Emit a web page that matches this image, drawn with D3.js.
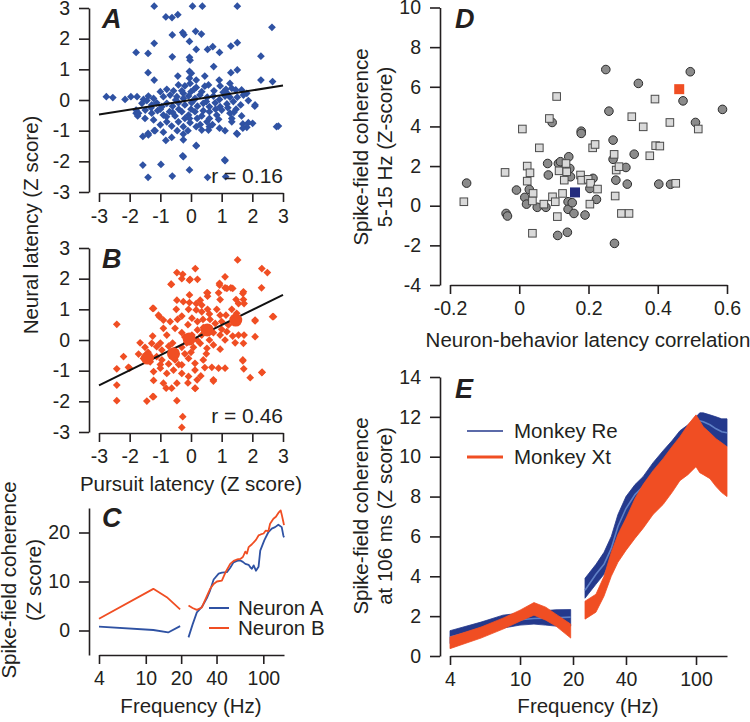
<!DOCTYPE html>
<html><head><meta charset="utf-8">
<script src="https://cdn.jsdelivr.net/npm/d3@7"></script>
<style>
body{margin:0;background:#fff}
svg text{font-family:"Liberation Sans",Arial,Helvetica,sans-serif;fill:#231f20}
</style></head><body>
<svg id="c" width="750" height="722"></svg>
<script>
// ---------------- DATA ----------------
// Panel A: pursuit latency vs neural latency (Z), blue
const aPoints = [
[-1.2,3.06],[0.05,3.06],[0.37,3.06],[1.51,3.06],
[-0.82,2.71],[-0.62,2.69],[-0.43,2.78],[2.64,2.37],
[-0.27,2.2],[-0.23,2.13],[0.15,2.24],[0.34,2.15],[-0.61,2.12],
[-0.05,1.91],[-1.2,1.85],[1.3,1.76],[1.51,1.87],[0.71,1.74],[0.54,1.65],[0.17,1.65],
[-1.79,1.55],[-1.4,1.52],[0.93,1.55],[-0.61,1.41],[-0.05,1.39],[-0.03,1.3],[2.28,1.43],
[0.74,1.09],[-0.05,0.93],[0.01,0.87],[1.51,0.98],[1.3,0.89],[-1.4,0.89],[-0.43,0.78],[0.45,0.78],[-1.2,0.65],[2.28,0.65],[2.66,0.6],
[-2.76,0.11],[-2.55,0.08],[-2.15,0.02],[-1.96,0.11],[-1.76,0.11],
[2.08,-0.2],[2.85,-0.85],[-1.79,-0.43],[-1.74,-0.52],
[-1.57,-1.19],[-1.4,-1.09],[-1.2,-1.0],
[-1.57,-2.12],[-1.4,-2.52],[-0.98,-2.1],[-0.61,-2.48],[-0.27,-1.82],[-0.05,-2.28],[0.17,-1.48],[0.54,-2.52],[1.1,-1.95],[1.13,-2.5],[1.51,-1.11],[1.69,-0.78],[1.82,-0.89],[2.01,-0.76],
[-0.41,0.49],[-0.79,0.35],[-0.57,0.3],[-0.2,0.46],[0.17,0.41],[0.57,0.49],[0.92,0.65],[0.95,0.46],[1.27,0.54],[1.46,0.33],[-1.0,0.27],[-0.25,0.22],[0,0.27],[0.35,0.27],[0.75,0.3],[1.14,0.35],[1.33,0.38],[1.65,0.33],[1.82,0.22],[-0.03,0.54],[0.17,0.65],[-0.05,0.71],
[-1.55,0.02],[-1.39,0.13],[-1.22,0.05],[-0.9,0.11],[-0.68,0.16],[-0.46,0.11],[-0.25,0.05],[-0.08,0.13],[0.13,0.05],[0.29,0.16],[0.53,0.09],[0.73,0.13],[0.93,0.02],[1.11,0.13],[1.27,0.09],[1.51,0.09],[1.71,0.16],
[-1.6,-0.11],[-1.44,-0.02],[-1.28,-0.16],[-1.12,-0.09],[-0.95,-0.22],[-0.79,-0.11],[-0.6,-0.2],[-0.41,-0.09],[-0.2,-0.16],[0.02,-0.09],[0.21,-0.2],[0.4,-0.11],[0.6,-0.22],[0.79,-0.09],[0.95,-0.22],[1.17,-0.13],[1.38,-0.05],[1.62,-0.16],[1.87,-0.02],[2.09,-0.16],[-1.79,-0.33],
[-1.71,-0.43],[-1.49,-0.33],[-1.28,-0.43],[-1.09,-0.35],[-0.9,-0.49],[-0.7,-0.38],[-0.52,-0.52],[-0.3,-0.38],[-0.08,-0.49],[0.13,-0.38],[0.35,-0.52],[0.6,-0.38],[0.84,-0.49],[1.0,-0.33],[1.27,-0.43],[1.47,-0.3],
[-1.22,-0.65],[-1.0,-0.81],[-0.79,-0.71],[-0.63,-0.85],[-0.41,-0.71],[-0.25,-0.87],[-0.03,-0.74],[0.17,-0.87],[0.52,-0.71],[0.6,-0.87],[0.9,-0.63],[1.33,-0.6],[1.33,-0.71],[1.65,-0.52],[1.87,-0.74],[0.35,-0.98],[0.57,-0.98],[0.93,-0.92],[1.11,-1.0],[1.49,-1.09],[1.69,-0.92],[-1.39,-1.14],[-1.17,-1.0],[-0.63,-1.22],[-0.82,-1.32],[-0.25,-1.3],[-0.25,-1.11],[0.17,-1.5],[2.79,-0.87],[-0.25,-1.85],[1.11,-1.98],
[-1.0,-0.3],[-0.8,-0.55],[-0.6,-0.4],[-0.4,-0.3],[-0.2,-0.6],[0,-0.3],[0.2,-0.6],[0.4,-0.35],[0.6,-0.6],[0.8,-0.3],[1.2,-0.25],[1.4,-0.4],[-1.3,-0.25],[-0.5,0.0],[0.1,0.0],[0.5,-0.05],[-0.1,-1.0],[-0.45,-1.0],[0.3,-0.8],[-0.9,-1.05],[1.2,0.2],[-0.3,0.3],[0.1,0.35],[0.7,-0.8],[-0.05,-0.6],[-1.5,-0.6],[1.05,0.25],[0.45,0.45]
];
const aFit = [[-3,-0.47],[3,0.47]];
const aR = "r = 0.16";

// Panel B: red
const bPoints = [
[1.52,2.61],[2.31,2.33],[2.49,2.2],[0.14,2.33],[-0.46,2.2],[-0.27,2.14],[-0.3,2.0],[-0.05,1.95],[-0.64,1.81],[1.11,2.06],[0.54,1.54],[0.93,1.79],[1.11,1.7],[1.3,1.7],[1.69,1.52],[2.3,1.7],[-1.22,1.03],[-1.03,0.76],[-2.42,0.51],[2.69,0.76],[2.09,0.62],[2.09,0.11],[-2.2,-0.54],[-2.42,-0.94],[-2.42,-1.47],[-2.42,-1.98],[-2.0,-0.92],[-1.44,-1.99],[-1.22,-1.85],[-0.46,-1.98],[1.69,-0.68],[1.72,-0.94],[1.93,-1.23],[2.32,-1.05],[0.73,-1.34],[0.14,-1.58],[-0.3,-2.85],[-0.27,-2.5],
[-0.03,1.98],[0.21,1.98],[-0.65,1.82],[0.93,1.85],[1.17,1.68],[1.36,1.68],[1.71,1.57],[0.52,1.54],[0.54,1.43],[-0.05,1.47],[0.9,1.54],[0.95,1.32],[1.47,1.32],[1.71,1.32],[1.55,1.19],[1.73,1.19],[-0.25,1.25],[-0.05,1.22],[0.17,1.19],[0.35,1.14],[-0.46,1.3],[-1.25,1.03],[-1.06,0.81],[-0.08,1.0],[0.17,0.98],[0.35,0.92],[0.54,1.0],[-0.48,1.0],[0.84,1.0],[0.95,0.81],[1.14,0.81],[1.33,1.0],[1.49,0.87],[2.09,0.65],[2.66,0.76],[-0.9,0.65],[-0.68,0.6],[-0.44,0.67],[-0.3,0.78],[0.03,0.71],[0.21,0.6],[0.39,0.67],[0.62,0.67],[0.79,0.54],[1.0,0.6],[1.22,0.49],[1.47,0.65],[-0.9,0.38],[-0.79,0.16],[-0.52,0.38],[-0.3,0.24],[0.03,0.16],[0.21,0.33],[0.35,0.16],[0.54,0.38],[0.73,0.24],[0.95,0.16],[1.17,0.27],[1.36,0.13],[1.55,0.16],[1.73,0.16],[-1.25,0.13],[-1.66,-0.09],[-1.5,-0.24],[-1.28,-0.11],[-1.12,-0.22],[-0.95,-0.33],[-0.73,-0.2],[-0.52,-0.35],[-0.3,-0.24],[-0.14,-0.09],[0.08,-0.24],[0.3,-0.11],[0.52,-0.27],[0.73,-0.16],[0.95,-0.3],[1.11,0],[1.44,-0.09],[1.71,-0.11],[-2.04,-0.89],[-1.71,-0.46],[-1.55,-0.6],[-1.33,-0.71],[-1.12,-0.54],[-0.95,-0.65],[-0.73,-0.78],[-0.52,-0.65],[-0.3,-0.81],[-0.08,-0.6],[0.13,-0.76],[0.4,-0.65],[0.68,-0.89],[0.9,-0.92],[1.11,-0.92],[1.69,-0.65],[2.31,-1.06],[-1.22,-1.03],[-1.0,-0.92],[-0.79,-1.09],[-0.57,-0.98],[-0.3,-1.09],[-0.08,-1.19],[0.13,-0.98],[0.32,-1.17],[0.73,-1.3],[-1.22,-1.32],[-0.9,-1.41],[-0.63,-1.57],[-0.46,-1.41],[-0.81,-1.57],[0.13,-1.57],[-1.25,-1.85],
[-1.4,-0.4],[-1.0,-0.1],[-0.6,-0.1],[-0.2,0.1],[0.2,0.0],[0.6,0.0],[1.0,0.35],[0.4,0.4],[-0.2,-0.45],[0.0,-0.4],[-0.6,-0.5],[-1.0,-0.8],[-0.4,-0.8],[0.5,-0.45],[0.2,-1.3],[-0.1,0.5],[0.6,0.85],[0.3,1.3],[-0.1,-1.4],[0.45,-0.9]
];
const bMeans = [[-1.42,-0.59],[-0.57,-0.45],[-0.06,0.03],[0.53,0.33],[1.46,0.65]];
const bFit = [[-3,-1.48],[3,1.47]];
const bR = "r = 0.46";
const abTicks = [-3,-2,-1,0,1,2,3];

// Panel C: spike-field coherence vs frequency for two neurons
const cNeuronALeft = [[4,0.8],[11.6,0.1],[15.5,-0.4],[19.6,0.9]];
const cNeuronARight = [[23.1,-1.4],[25,1.2],[27.2,3.7],[30,4.8],[33.1,6.6],[35.3,8.2],[37.8,10.4],[41.7,11.6],[44.4,11.8],[49,11.9],[52.3,12.8],[55.8,13.9],[59.7,14.2],[63.7,14.3],[67,14.0],[70.3,13.6],[75,13.4],[77.5,12.9],[80,12.6],[82.8,13.3],[86.6,12.2],[91.1,13.0],[94.2,16.3],[101.9,18.4],[110.6,20.1],[118,20.8],[126,21.1],[134.3,21.6],[143.4,21.1],[148,19.4],[150,19.0]];
const cNeuronBLeft = [[4,2.4],[11.6,8.5],[15.1,6.8],[19.6,4.3]];
const cNeuronBRight = [[23.1,5.1],[25,4.6],[27.2,4.2],[30,4.7],[33.1,7.0],[35.3,8.5],[37.8,9.5],[40.3,10.0],[44.4,10.2],[48,12.0],[52.3,13.6],[56,14.2],[59.7,14.5],[63.7,14.6],[67,15.0],[70.3,16.1],[72.6,15.7],[75,17.0],[80,17.6],[86.6,18.5],[91.1,19.4],[95,19.6],[100.5,19.8],[105,20.4],[110.6,20.3],[114.2,21.8],[121.9,22.8],[128,23.2],[134.3,24.0],[140.6,24.5],[144,23.5],[148,22.2],[150,21.5]];
const cYTicks = [0,10,20];
const freqTicks = [4,10,20,40,100];
const cLegend = ["Neuron A","Neuron B"];

// Panel D: neuron-behaviour latency correlation vs coherence
const dCircles = [[-0.152,1.14],[-0.038,-0.39],[-0.034,-0.52],[-0.008,0.79],[0.016,0.42],[0.021,0.08],[0.029,0.82],[0.052,-0.08],[0.077,-0.08],[0.082,2.13],[0.084,1.55],[0.095,4.2],[0.111,-1.5],[0.113,2.13],[0.119,2.22],[0.139,-1.34],[0.141,0.2],[0.141,-0.18],[0.143,2.47],[0.146,1.88],[0.148,1.46],[0.153,0.15],[0.158,-0.39],[0.179,3.76],[0.179,3.65],[0.19,-0.47],[0.204,0.87],[0.213,1.38],[0.223,0.32],[0.25,6.87],[0.259,4.77],[0.271,3.31],[0.271,2.34],[0.275,-1.9],[0.279,1.29],[0.308,1.93],[0.312,1.09],[0.332,2.6],[0.344,6.17],[0.403,1.09],[0.437,1.08],[0.473,5.29],[0.494,6.76],[0.509,4.2],[0.587,4.86]];
const dSquares = [[-0.16,0.2],[-0.041,1.68],[0.009,3.87],[0.023,2.0],[0.031,1.66],[0.023,1.24],[0.04,0.62],[0.038,0.24],[0.038,-1.39],[0.058,2.92],[0.071,0.08],[0.087,4.4],[0.096,0.45],[0.104,0.2],[0.108,5.51],[0.11,-0.55],[0.115,1.76],[0.125,0.62],[0.13,1.29],[0.135,2.13],[0.137,1.71],[0.177,1.55],[0.18,1.29],[0.199,1.33],[0.204,0.08],[0.206,1.13],[0.212,2.92],[0.219,3.09],[0.226,0.84],[0.274,2.59],[0.277,0.49],[0.28,1.8],[0.288,1.97],[0.295,-0.39],[0.317,-0.39],[0.325,4.49],[0.358,3.98],[0.377,2.52],[0.392,5.38],[0.394,3.03],[0.406,3.01],[0.435,4.2],[0.452,1.13],[0.517,3.87]];
const dHighlightA = [0.161,0.67];
const dHighlightB = [0.462,5.88];
const dXTicks = [-0.2,0,0.2,0.4,0.6];
const dYTicks = [-4,-2,0,2,4,6,8,10];

// Panel E: population coherence bands
const eFreqLeft = [4,6,8,10,12,14,16,19.4];
const reLowLeft  = [0.62,1.0,1.4,1.55,1.6,1.55,1.5,1.5];
const reHighLeft = [1.27,1.7,2.05,2.15,2.2,2.28,2.32,2.33];
const reMeanLeft = [0.95,1.35,1.7,1.82,1.88,1.9,1.92,1.95];
const xtLowLeft  = [0.37,0.9,1.35,1.75,2.05,1.8,1.5,0.9];
const xtHighLeft = [0.95,1.45,1.9,2.3,2.68,2.45,2.1,1.6];
const eFreqRight = [23.4,27,30,33,36,40,45,50,57,65,73,81,90,100,105,110,120,130,140,150];
const reLowRight  = [2.9,3.6,4.1,4.9,6.0,6.9,7.6,8.1,8.7,9.3,9.8,10.3,10.9,11.3,11.4,11.3,11.1,10.8,10.6,10.5];
const reHighRight = [3.9,4.6,5.2,6.0,7.1,8.0,8.6,9.0,9.7,10.3,10.8,11.3,11.6,12.0,12.2,12.2,12.1,12.0,11.9,11.9];
const reMeanRight = [3.3,4.1,4.6,5.4,6.5,7.4,8.1,8.5,9.2,9.8,10.3,10.8,11.25,11.65,11.8,11.75,11.6,11.4,11.25,11.2];
const xtLowRight  = [1.85,2.2,3.0,4.0,4.7,5.3,5.9,6.4,7.1,7.6,8.2,8.8,9.1,9.5,9.2,9.1,8.9,8.5,8.2,8.0];
const xtHighRight = [2.75,3.1,4.0,5.2,6.1,6.9,7.9,8.6,9.3,9.9,10.5,11.0,11.6,12.1,11.8,11.5,11.2,10.9,10.7,10.5];
const eYTicks = [0,2,4,6,8,10,12,14];
const eLegend = ["Monkey Re","Monkey Xt"];

// ---------------- DRAW ----------------
const INK = "#231f20";
const BLUE = "#2f52a3";
const RED = "#f04e23";
const NAVY = "#24398c";
const FONT = '"Liberation Sans",Arial,Helvetica,sans-serif';
const svg = d3.select("#c");

function styleAxis(g){
  g.attr("font-family",FONT).attr("font-size",19.5);
  g.selectAll("path,line").attr("stroke",INK).attr("stroke-width",1.6);
  g.selectAll("text").attr("fill",INK);
}
const fmt = d => String(d);

function yAxis(scale, x, ticks){
  svg.append("g").attr("transform",`translate(${x},0)`)
    .call(d3.axisLeft(scale).tickValues(ticks).tickFormat(fmt).tickSize(10).tickSizeOuter(0).tickPadding(9))
    .call(styleAxis);
}
function xAxis(scale, y, ticks, f){
  svg.append("g").attr("transform",`translate(0,${y})`)
    .call(d3.axisBottom(scale).tickValues(ticks).tickFormat(f||fmt).tickSize(9).tickSizeOuter(0).tickPadding(7))
    .call(styleAxis);
}
function letter(t,x,y){
  svg.append("text").attr("x",x).attr("y",y).text(t)
    .attr("font-size",27).attr("font-weight","bold").attr("font-style","italic");
}
function title(t,x,y){
  svg.append("text").attr("x",x).attr("y",y).attr("text-anchor","middle").attr("font-size",20.5).text(t);
}
function vtitle(t,x,y){
  svg.append("text").attr("transform",`translate(${x},${y}) rotate(-90)`).attr("text-anchor","middle").attr("font-size",20.5).text(t);
}
const diamond = d3.symbol().type(d3.symbolSquare).size(30);

// ---- Panel A ----
const xA = d3.scaleLinear([-3,3],[99,283]);
const yA = d3.scaleLinear([-3,3],[192,8]);
yAxis(yA, 89, abTicks);
xAxis(xA, 193, abTicks);
svg.append("g").selectAll("path").data(aPoints).join("path")
  .attr("d",diamond).attr("fill",BLUE)
  .attr("transform",d=>`translate(${xA(d[0])},${yA(d[1])}) rotate(45)`);
svg.append("line").attr("x1",xA(aFit[0][0])).attr("y1",yA(aFit[0][1])).attr("x2",xA(aFit[1][0])).attr("y2",yA(aFit[1][1]))
  .attr("stroke","#111").attr("stroke-width",2);
svg.append("text").attr("x",283).attr("y",183).attr("text-anchor","end").attr("font-size",21).text(aR);
letter("A",102,28);

// ---- Panel B ----
const xB = d3.scaleLinear([-3,3],[99,283]);
const yB = d3.scaleLinear([-3,3],[432,248]);
yAxis(yB, 89, abTicks);
xAxis(xB, 433, abTicks);
svg.append("g").selectAll("path").data(bPoints).join("path")
  .attr("d",diamond).attr("fill",RED)
  .attr("transform",d=>`translate(${xB(d[0])},${yB(d[1])}) rotate(45)`);
svg.append("line").attr("x1",xB(bFit[0][0])).attr("y1",yB(bFit[0][1])).attr("x2",xB(bFit[1][0])).attr("y2",yB(bFit[1][1]))
  .attr("stroke","#111").attr("stroke-width",2);
svg.append("g").selectAll("circle").data(bMeans).join("circle")
  .attr("cx",d=>xB(d[0])).attr("cy",d=>yB(d[1])).attr("r",6.5).attr("fill",RED);
svg.append("text").attr("x",283).attr("y",423).attr("text-anchor","end").attr("font-size",21).text(bR);
letter("B",102,268);
title("Pursuit latency (Z score)",191,491);
vtitle("Neural latency (Z score)",38,225);

// ---- Panel C ----
const xC = d3.scaleLog([4,150],[99,284]);
const yC = d3.scaleLinear([-5,25],[655,508]);
yAxis(yC, 89, cYTicks);
xAxis(xC, 655, freqTicks);
const lineC = d3.line().x(d=>xC(d[0])).y(d=>yC(d[1]));
[[cNeuronALeft,BLUE],[cNeuronARight,BLUE],[cNeuronBLeft,RED],[cNeuronBRight,RED]].forEach(([s,c])=>{
  svg.append("path").datum(s).attr("d",lineC).attr("fill","none").attr("stroke",c).attr("stroke-width",1.8).attr("stroke-linejoin","round");
});
[[BLUE,608],[RED,628]].forEach(([c,y],i)=>{
  svg.append("line").attr("x1",209).attr("x2",229).attr("y1",y).attr("y2",y).attr("stroke",c).attr("stroke-width",2);
  svg.append("text").attr("x",238).attr("y",y+7).attr("font-size",20.5).text(cLegend[i]);
});
letter("C",102,527);
title("Frequency (Hz)",191,713);
vtitle("Spike-field coherence",16,580);
vtitle("(Z score)",41,580);

// ---- Panel D ----
const xD = d3.scaleLinear([-0.2,0.6],[450,727]);
const yD = d3.scaleLinear([-4,10],[285,7.5]);
yAxis(yD, 440, dYTicks);
xAxis(xD, 285, dXTicks, d=>d===0?"0":String(d));
svg.append("g").selectAll("circle").data(dCircles).join("circle")
  .attr("cx",d=>xD(d[0])).attr("cy",d=>yD(d[1])).attr("r",4.3)
  .attr("fill","#8b8b8b").attr("stroke","#2b2b2b").attr("stroke-width",1);
svg.append("g").selectAll("rect").data(dSquares).join("rect")
  .attr("x",d=>xD(d[0])-3.8).attr("y",d=>yD(d[1])-3.8).attr("width",7.6).attr("height",7.6)
  .attr("fill","#d9d9d9").attr("stroke","#4a4a4a").attr("stroke-width",1);
[[dHighlightA,"#232c7e"],[dHighlightB,RED]].forEach(([p,c])=>{
  svg.append("rect").attr("x",xD(p[0])-5).attr("y",yD(p[1])-5).attr("width",10).attr("height",10).attr("fill",c);
});
letter("D",455,28);
title("Neuron-behavior latency correlation",588,347);
vtitle("Spike-field coherence",368,147);
vtitle("5-15 Hz (Z-score)",392,147);

// ---- Panel E ----
const xE = d3.scaleLog([4,150],[450,727]);
const yE = d3.scaleLinear([0,14],[656,377]);
yAxis(yE, 440, eYTicks);
xAxis(xE, 656, freqTicks);
function band(freqs, lo, hi, color){
  const pts = freqs.map((f,i)=>({f,lo:lo[i],hi:hi[i]}));
  svg.append("path").datum(pts)
    .attr("d",d3.area().x(d=>xE(d.f)).y0(d=>yE(d.lo)).y1(d=>yE(d.hi)))
    .attr("fill",color).attr("stroke",color).attr("stroke-width",0.8);
}
function meanLine(freqs, m, color){
  svg.append("path").datum(freqs.map((f,i)=>[f,m[i]]))
    .attr("d",d3.line().x(d=>xE(d[0])).y(d=>yE(d[1]))).attr("fill","none").attr("stroke",color).attr("stroke-width",1.6);
}
band(eFreqLeft, reLowLeft, reHighLeft, NAVY);
meanLine(eFreqLeft, reMeanLeft, "#5f80c6");
band(eFreqRight, reLowRight, reHighRight, NAVY);
meanLine(eFreqRight, reMeanRight, "#5f80c6");
band(eFreqLeft, xtLowLeft, xtHighLeft, RED);
band(eFreqRight, xtLowRight, xtHighRight, RED);
[[NAVY,431,1.6],[RED,457,3]].forEach(([c,y,w],i)=>{
  svg.append("line").attr("x1",467).attr("x2",503).attr("y1",y).attr("y2",y).attr("stroke",c).attr("stroke-width",w);
  svg.append("text").attr("x",514).attr("y",y+7).attr("font-size",20.5).text(eLegend[i]);
});
letter("E",455,398);
title("Frequency (Hz)",588,713);
vtitle("Spike-field coherence",368,516);
vtitle("at 106 ms (Z score)",392,516);
</script>
</body></html>
